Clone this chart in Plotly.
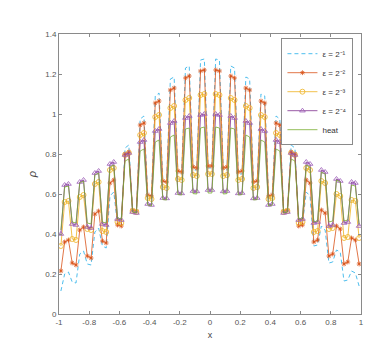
import plotly.graph_objects as go

# sample points (cell centres)
x = [-0.9875, -0.9625, -0.9375, -0.9125, -0.8875, -0.8625, -0.8375, -0.8125,
     -0.7875, -0.7625, -0.7375, -0.7125, -0.6875, -0.6625, -0.6375, -0.6125,
     -0.5875, -0.5625, -0.5375, -0.5125, -0.4875, -0.4625, -0.4375, -0.4125,
     -0.3875, -0.3625, -0.3375, -0.3125, -0.2875, -0.2625, -0.2375, -0.2125,
     -0.1875, -0.1625, -0.1375, -0.1125, -0.0875, -0.0625, -0.0375, -0.0125,
     0.0125, 0.0375, 0.0625, 0.0875, 0.1125, 0.1375, 0.1625, 0.1875,
     0.2125, 0.2375, 0.2625, 0.2875, 0.3125, 0.3375, 0.3625, 0.3875,
     0.4125, 0.4375, 0.4625, 0.4875, 0.5125, 0.5375, 0.5625, 0.5875,
     0.6125, 0.6375, 0.6625, 0.6875, 0.7125, 0.7375, 0.7625, 0.7875,
     0.8125, 0.8375, 0.8625, 0.8875, 0.9125, 0.9375, 0.9625, 0.9875]

rho_eps1 = [0.115, 0.20, 0.21, 0.16, 0.155, 0.30, 0.315, 0.25, 0.245, 0.41,
            0.43, 0.34, 0.33, 0.59, 0.61, 0.45, 0.44, 0.83, 0.845, 0.52,
            0.51, 0.975, 0.99, 0.60, 0.59, 1.09, 1.105, 0.665, 0.66, 1.175,
            1.185, 0.70, 0.70, 1.23, 1.24, 0.72, 0.72, 1.27, 1.275, 0.73,
            0.73, 1.275, 1.27, 0.72, 0.72, 1.24, 1.23, 0.70, 0.70, 1.185,
            1.175, 0.66, 0.665, 1.10, 1.09, 0.59, 0.60, 0.99, 0.975, 0.51,
            0.52, 0.845, 0.83, 0.44, 0.45, 0.61, 0.59, 0.34, 0.345, 0.44,
            0.42, 0.255, 0.26, 0.32, 0.31, 0.165, 0.17, 0.215, 0.205, 0.14]

rho_eps2 = [0.215, 0.36, 0.37, 0.255, 0.245, 0.42, 0.435, 0.29, 0.28, 0.50,
            0.515, 0.365, 0.355, 0.655, 0.67, 0.445, 0.44, 0.80, 0.81, 0.52,
            0.515, 0.945, 0.955, 0.595, 0.59, 1.055, 1.065, 0.665, 0.66, 1.12,
            1.13, 0.715, 0.71, 1.18, 1.19, 0.735, 0.73, 1.215, 1.22, 0.74,
            0.74, 1.22, 1.215, 0.73, 0.735, 1.19, 1.18, 0.71, 0.715, 1.13,
            1.12, 0.66, 0.665, 1.065, 1.055, 0.59, 0.595, 0.955, 0.945, 0.515,
            0.52, 0.81, 0.80, 0.44, 0.445, 0.67, 0.655, 0.36, 0.37, 0.52,
            0.505, 0.29, 0.30, 0.44, 0.425, 0.25, 0.26, 0.38, 0.37, 0.25]

rho_eps3 = [0.34, 0.56, 0.565, 0.375, 0.37, 0.585, 0.595, 0.425, 0.42, 0.65,
            0.66, 0.415, 0.41, 0.72, 0.73, 0.46, 0.455, 0.795, 0.805, 0.515,
            0.51, 0.895, 0.905, 0.58, 0.575, 0.985, 0.995, 0.635, 0.63, 1.03,
            1.04, 0.675, 0.67, 1.07, 1.08, 0.695, 0.69, 1.095, 1.10, 0.70,
            0.70, 1.10, 1.095, 0.69, 0.695, 1.08, 1.07, 0.67, 0.675, 1.04,
            1.03, 0.63, 0.635, 0.995, 0.985, 0.575, 0.58, 0.905, 0.895, 0.51,
            0.515, 0.805, 0.795, 0.455, 0.46, 0.73, 0.72, 0.41, 0.415, 0.665,
            0.655, 0.425, 0.43, 0.60, 0.59, 0.38, 0.385, 0.57, 0.565, 0.38]

rho_eps4 = [0.40, 0.645, 0.65, 0.45, 0.445, 0.66, 0.67, 0.435, 0.43, 0.705,
            0.715, 0.45, 0.445, 0.75, 0.76, 0.475, 0.47, 0.795, 0.805, 0.51,
            0.505, 0.86, 0.87, 0.55, 0.545, 0.915, 0.925, 0.58, 0.578, 0.955,
            0.965, 0.605, 0.603, 0.98, 0.99, 0.615, 0.613, 0.995, 1.00, 0.62,
            0.62, 1.00, 0.995, 0.613, 0.615, 0.99, 0.98, 0.603, 0.605, 0.965,
            0.955, 0.578, 0.58, 0.925, 0.915, 0.545, 0.55, 0.87, 0.86, 0.505,
            0.51, 0.805, 0.795, 0.47, 0.475, 0.76, 0.75, 0.455, 0.46, 0.72,
            0.71, 0.44, 0.445, 0.675, 0.665, 0.455, 0.46, 0.66, 0.655, 0.44]

rho_heat = [0.42, 0.635, 0.64, 0.46, 0.455, 0.655, 0.665, 0.455, 0.45, 0.695,
            0.705, 0.46, 0.455, 0.735, 0.745, 0.48, 0.475, 0.765, 0.775, 0.51,
            0.505, 0.815, 0.825, 0.545, 0.54, 0.86, 0.87, 0.572, 0.57, 0.885,
            0.895, 0.597, 0.595, 0.925, 0.93, 0.602, 0.60, 0.93, 0.935, 0.605,
            0.605, 0.935, 0.93, 0.60, 0.602, 0.93, 0.925, 0.595, 0.597, 0.895,
            0.885, 0.57, 0.572, 0.87, 0.86, 0.54, 0.545, 0.825, 0.815, 0.505,
            0.51, 0.775, 0.765, 0.475, 0.48, 0.745, 0.735, 0.46, 0.465, 0.71,
            0.70, 0.46, 0.465, 0.67, 0.66, 0.465, 0.47, 0.645, 0.64, 0.45]

series_names = ['ε = 2⁻¹', 'ε = 2⁻²', 'ε = 2⁻³', 'ε = 2⁻⁴', 'heat']

x_ticks = [-1, -0.8, -0.6, -0.4, -0.2, 0, 0.2, 0.4, 0.6, 0.8, 1]
x_ticklabels = ['-1', '-0.8', '-0.6', '-0.4', '-0.2', '0', '0.2', '0.4', '0.6', '0.8', '1']
y_ticks = [0, 0.2, 0.4, 0.6, 0.8, 1, 1.2, 1.4]
y_ticklabels = ['0', '0.2', '0.4', '0.6', '0.8', '1', '1.2', '1.4']

FONT = 'Liberation Sans Narrow, Arial Narrow, Liberation Sans, Arial'

fig = go.Figure()
fig.add_trace(go.Scatter(
    x=x, y=rho_eps1, mode='lines', name=series_names[0],
    line=dict(color='#4DBEEE', width=1, dash='4px,3px'),
))
fig.add_trace(go.Scatter(
    x=x, y=rho_eps2, mode='lines+markers', name=series_names[1],
    line=dict(color='#D95319', width=0.8),
    marker=dict(symbol='asterisk-open', size=4, color='#D95319',
                line=dict(color='#D95319', width=0.8)),
))
fig.add_trace(go.Scatter(
    x=x, y=rho_eps3, mode='lines+markers', name=series_names[2],
    line=dict(color='#EDB120', width=0.8),
    marker=dict(symbol='circle-open', size=5, color='#EDB120', line=dict(width=0.8)),
))
fig.add_trace(go.Scatter(
    x=x, y=rho_eps4, mode='lines+markers', name=series_names[3],
    line=dict(color='#7E2F8E', width=0.8),
    marker=dict(symbol='triangle-up-open', size=5, color='#9B59B6', line=dict(width=0.8)),
))
fig.add_trace(go.Scatter(
    x=x, y=rho_heat, mode='lines', name=series_names[4],
    line=dict(color='#77AC30', width=0.8),
))

axis_common = dict(
    showgrid=False, zeroline=False, showline=True, linecolor='#8a8a8a', linewidth=1,
    mirror='ticks', ticks='inside', ticklen=3, tickcolor='#8a8a8a', tickwidth=1,
    tickfont=dict(family=FONT, size=8, color='#555555'),
)

fig.update_layout(
    width=390, height=346,
    margin=dict(l=51, r=37, t=26, b=40),
    paper_bgcolor='white', plot_bgcolor='white',
    font=dict(family=FONT, color='#444444'),
    showlegend=True,
    legend=dict(
        x=0.975, y=0.985, xanchor='right', yanchor='top',
        bgcolor='white', bordercolor='#8a8a8a', borderwidth=1,
        font=dict(family=FONT, size=8, color='#333333'),
        itemwidth=30, tracegroupgap=0,
    ),
    xaxis=dict(range=[-1, 1], tickvals=x_ticks, ticktext=x_ticklabels,
               title=dict(text='x', font=dict(family=FONT, size=9, color='#444444'), standoff=6),
               **axis_common),
    yaxis=dict(range=[0, 1.4], tickvals=y_ticks, ticktext=y_ticklabels,
               title=dict(text='<i>ρ</i>', font=dict(family=FONT, size=11, color='#444444'), standoff=6),
               **axis_common),
)

fig.write_html('out.html')
